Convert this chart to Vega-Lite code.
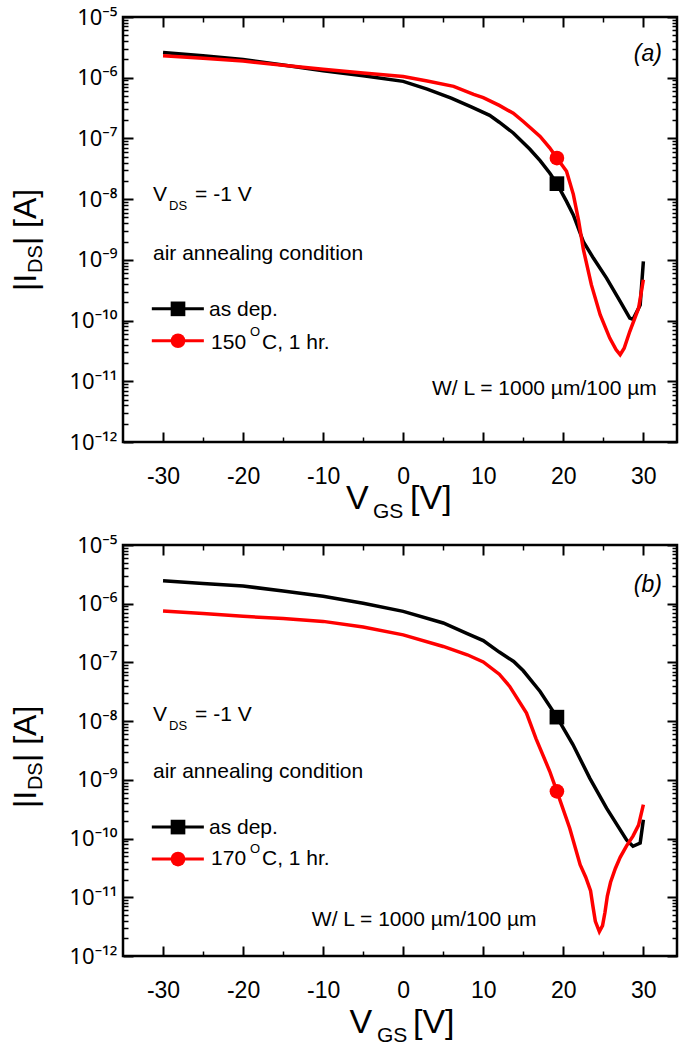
{
"$schema":"https://vega.github.io/schema/vega-lite/v6.json",
"background":"white",
"padding":{"left":8,"top":4,"right":5,"bottom":5},
"spacing":103,
"bounds":"flush",
"config":{"view":{"stroke":"#000","strokeWidth":2.5},"font":"Liberation Sans"},
"vconcat":[
{"width":554,"height":425,
"layer":[
{"data":{"values":[
{"s":"dep","v":-30,"i":2.6e-6},{"s":"dep","v":-25,"i":2.3e-6},{"s":"dep","v":-20,"i":2.0e-6},{"s":"dep","v":-15,"i":1.62e-6},{"s":"dep","v":-10,"i":1.3e-6},{"s":"dep","v":-5,"i":1.08e-6},{"s":"dep","v":0,"i":8.7e-7},{"s":"dep","v":3,"i":6.5e-7},{"s":"dep","v":6,"i":4.6e-7},{"s":"dep","v":8.5,"i":3.3e-7},{"s":"dep","v":10.8,"i":2.4e-7},{"s":"dep","v":12,"i":1.85e-7},{"s":"dep","v":13.75,"i":1.23e-7},{"s":"dep","v":15.8,"i":6.7e-8},{"s":"dep","v":17.1,"i":4.3e-8},{"s":"dep","v":18.3,"i":2.7e-8},{"s":"dep","v":19.2,"i":1.8e-8},{"s":"dep","v":20.4,"i":9.2e-9},{"s":"dep","v":21.25,"i":5.5e-9},{"s":"dep","v":22.5,"i":2.0e-9},{"s":"dep","v":23.75,"i":1.07e-9},{"s":"dep","v":25.4,"i":5.0e-10},{"s":"dep","v":27.1,"i":2.07e-10},{"s":"dep","v":28.3,"i":1.1e-10},{"s":"dep","v":28.7,"i":1.05e-10},{"s":"dep","v":29.6,"i":1.8e-10},{"s":"dep","v":30,"i":9.4e-10},
{"s":"ann","v":-30,"i":2.3e-6},{"s":"ann","v":-25,"i":2.1e-6},{"s":"ann","v":-20,"i":1.88e-6},{"s":"ann","v":-15,"i":1.6e-6},{"s":"ann","v":-10,"i":1.38e-6},{"s":"ann","v":-5,"i":1.2e-6},{"s":"ann","v":0,"i":1.05e-6},{"s":"ann","v":3,"i":8.8e-7},{"s":"ann","v":6.3,"i":7.2e-7},{"s":"ann","v":8.8,"i":5.3e-7},{"s":"ann","v":10,"i":4.7e-7},{"s":"ann","v":12,"i":3.5e-7},{"s":"ann","v":13.75,"i":2.6e-7},{"s":"ann","v":15,"i":1.9e-7},{"s":"ann","v":17.1,"i":1.08e-7},{"s":"ann","v":18.3,"i":7e-8},{"s":"ann","v":19.2,"i":4.75e-8},{"s":"ann","v":20.4,"i":2.87e-8},{"s":"ann","v":21.25,"i":1.2e-8},{"s":"ann","v":21.9,"i":4.5e-9},{"s":"ann","v":22.5,"i":1.5e-9},{"s":"ann","v":23.5,"i":3.9e-10},{"s":"ann","v":24.6,"i":1.25e-10},{"s":"ann","v":25.8,"i":5.15e-11},{"s":"ann","v":26.6,"i":3.3e-11},{"s":"ann","v":27.1,"i":2.74e-11},{"s":"ann","v":27.6,"i":3.5e-11},{"s":"ann","v":28.3,"i":6.6e-11},{"s":"ann","v":29.4,"i":1.6e-10},{"s":"ann","v":30,"i":4.7e-10}
]},
"mark":{"type":"line","strokeWidth":3.5},
"encoding":{
"x":{"field":"v","type":"quantitative","scale":{"domain":[-35,34.2],"nice":false,"zero":false},"axis":{"orient":"bottom","values":[-30,-20,-10,0,10,20,30],"labelExpr":"'' + datum.value","tickSize":-10,"tickWidth":2,"tickColor":"#000","domain":false,"grid":false,"title":null,"labelFont":"Liberation Sans","labelFontSize":23,"labelColor":"#000","labelPadding":33,"labelFlush":false,"labelOverlap":false,"labelBound":false}},
"y":{"field":"i","type":"quantitative","scale":{"type":"log","domain":[1e-12,1e-5],"nice":false},"axis":{"orient":"left","values":[1e-12,1e-11,1e-10,1e-9,1e-8,1e-7,1e-6,1e-5],"labelExpr":"datum.value < 3e-12 ? '10⁻¹²' : datum.value < 3e-11 ? '10⁻¹¹' : datum.value < 3e-10 ? '10⁻¹⁰' : datum.value < 3e-9 ? '10⁻⁹' : datum.value < 3e-8 ? '10⁻⁸' : datum.value < 3e-7 ? '10⁻⁷' : datum.value < 3e-6 ? '10⁻⁶' : '10⁻⁵'","tickSize":-10,"tickWidth":2,"tickColor":"#000","domain":false,"grid":false,"title":null,"labelFont":"Noto Sans","labelFontSize":22,"labelColor":"#000","labelPadding":16,"labelFlush":false,"labelOverlap":false,"labelBound":false}},
"color":{"field":"s","type":"nominal","scale":{"domain":["dep","ann"],"range":["#000000","#ff0000"]},"legend":null}}},
{"data":{"values":[{"s":"dep","v":19.2,"i":1.8e-8},{"s":"ann","v":19.2,"i":4.75e-8}]},
"mark":{"type":"point","filled":true,"opacity":1,"size":215},
"encoding":{
"x":{"field":"v","type":"quantitative","scale":{"domain":[-35,34.2],"nice":false,"zero":false},"axis":{"orient":"top","values":[-30,-20,-10,0,10,20,30],"labels":false,"tickSize":-10,"tickWidth":2,"tickColor":"#000","domain":false,"grid":false,"title":null}},
"y":{"field":"i","type":"quantitative","scale":{"type":"log","domain":[1e-12,1e-5],"nice":false},"axis":{"orient":"right","values":[1e-12,1e-11,1e-10,1e-9,1e-8,1e-7,1e-6,1e-5],"labels":false,"tickSize":-10,"tickWidth":2,"tickColor":"#000","domain":false,"grid":false,"title":null}},
"color":{"field":"s","type":"nominal","scale":{"domain":["dep","ann"],"range":["#000000","#ff0000"]},"legend":null},
"shape":{"field":"s","type":"nominal","scale":{"domain":["dep","ann"],"range":["square","circle"]},"legend":null}}},
{"data":{"values":[{"s":"dep","v":-31.4,"i":1.56e-10},{"s":"dep","v":-24.9,"i":1.56e-10},{"s":"ann","v":-31.4,"i":4.65e-11},{"s":"ann","v":-24.9,"i":4.65e-11}]},
"mark":{"type":"line","strokeWidth":3},
"encoding":{
"x":{"field":"v","type":"quantitative","scale":{"domain":[-35,34.2],"nice":false,"zero":false},"axis":{"orient":"bottom","values":[-25,-15,-5,5,15,25],"labels":false,"tickSize":-5,"tickWidth":1.5,"tickColor":"#000","domain":false,"grid":false,"title":null}},
"y":{"field":"i","type":"quantitative","scale":{"type":"log","domain":[1e-12,1e-5],"nice":false},"axis":{"orient":"left","values":[2e-12,3e-12,4e-12,5e-12,6e-12,7e-12,8e-12,9e-12,2e-11,3e-11,4e-11,5e-11,6e-11,7e-11,8e-11,9e-11,2e-10,3e-10,4e-10,5e-10,6e-10,7e-10,8e-10,9e-10,2e-9,3e-9,4e-9,5e-9,6e-9,7e-9,8e-9,9e-9,2e-8,3e-8,4e-8,5e-8,6e-8,7e-8,8e-8,9e-8,2e-7,3e-7,4e-7,5e-7,6e-7,7e-7,8e-7,9e-7,2e-6,3e-6,4e-6,5e-6,6e-6,7e-6,8e-6,9e-6],"labels":false,"tickSize":-5,"tickWidth":1.5,"tickColor":"#000","domain":false,"grid":false,"title":null}},
"color":{"field":"s","type":"nominal","scale":{"domain":["dep","ann"],"range":["#000000","#ff0000"]},"legend":null}}},
{"data":{"values":[{"s":"dep","v":-28.13,"i":1.56e-10},{"s":"ann","v":-28.13,"i":4.65e-11}]},
"mark":{"type":"point","filled":true,"opacity":1,"size":215},
"encoding":{
"x":{"field":"v","type":"quantitative","scale":{"domain":[-35,34.2],"nice":false,"zero":false},"axis":{"orient":"top","values":[-25,-15,-5,5,15,25],"labels":false,"tickSize":-5,"tickWidth":1.5,"tickColor":"#000","domain":false,"grid":false,"title":null}},
"y":{"field":"i","type":"quantitative","scale":{"type":"log","domain":[1e-12,1e-5],"nice":false},"axis":{"orient":"right","values":[2e-12,3e-12,4e-12,5e-12,6e-12,7e-12,8e-12,9e-12,2e-11,3e-11,4e-11,5e-11,6e-11,7e-11,8e-11,9e-11,2e-10,3e-10,4e-10,5e-10,6e-10,7e-10,8e-10,9e-10,2e-9,3e-9,4e-9,5e-9,6e-9,7e-9,8e-9,9e-9,2e-8,3e-8,4e-8,5e-8,6e-8,7e-8,8e-8,9e-8,2e-7,3e-7,4e-7,5e-7,6e-7,7e-7,8e-7,9e-7,2e-6,3e-6,4e-6,5e-6,6e-6,7e-6,8e-6,9e-6],"labels":false,"tickSize":-5,"tickWidth":1.5,"tickColor":"#000","domain":false,"grid":false,"title":null}},
"color":{"field":"s","type":"nominal","scale":{"domain":["dep","ann"],"range":["#000000","#ff0000"]},"legend":null},
"shape":{"field":"s","type":"nominal","scale":{"domain":["dep","ann"],"range":["square","circle"]},"legend":null}}},
{"data":{"values":[{"t":"V","v":-31.25,"i":9.3e-9},{"t":"= -1 V","v":-26.0,"i":9.3e-9},{"t":"air annealing condition","v":-31.25,"i":1.0e-9},{"t":"as dep.","v":-24.26,"i":1.19e-10},{"t":"150","v":-24.0,"i":3.43e-11},{"t":"C, 1 hr.","v":-17.64,"i":3.43e-11}]},
"mark":{"type":"text","align":"left","baseline":"alphabetic","font":"Liberation Sans","fontSize":21,"color":"#000"},
"encoding":{"x":{"field":"v","type":"quantitative","axis":null},"y":{"field":"i","type":"quantitative","scale":{"type":"log"},"axis":null},"text":{"field":"t"}}},
{"data":{"values":[{"t":"DS","v":-29.25,"i":6.6e-9},{"t":"O","v":-19.14,"i":5.56e-11}]},
"mark":{"type":"text","align":"left","baseline":"alphabetic","font":"Liberation Sans","fontSize":13,"color":"#000"},
"encoding":{"x":{"field":"v","type":"quantitative","axis":null},"y":{"field":"i","type":"quantitative","scale":{"type":"log"},"axis":null},"text":{"field":"t"}}},
{"data":{"values":[{"t":"W/ L = 1000 µm/100 µm","v":31.67,"i":5.93e-12}]},
"mark":{"type":"text","align":"right","baseline":"alphabetic","font":"Liberation Sans","fontSize":21,"color":"#000"},
"encoding":{"x":{"field":"v","type":"quantitative","axis":null},"y":{"field":"i","type":"quantitative","scale":{"type":"log"},"axis":null},"text":{"field":"t"}}},
{"data":{"values":[{"t":"(a)","v":32.32,"i":1.88e-6}]},
"mark":{"type":"text","align":"right","baseline":"alphabetic","font":"Liberation Sans","fontSize":23,"fontStyle":"italic","color":"#000"},
"encoding":{"x":{"field":"v","type":"quantitative","axis":null},"y":{"field":"i","type":"quantitative","scale":{"type":"log"},"axis":null},"text":{"field":"t"}}},
{"data":{"values":[{"t":"V","v":-7.15,"i":7.85e-14},{"t":"[V]","v":0.85,"i":7.85e-14}]},
"mark":{"type":"text","align":"left","baseline":"alphabetic","font":"Liberation Sans","fontSize":34,"color":"#000"},
"encoding":{"x":{"field":"v","type":"quantitative","axis":null},"y":{"field":"i","type":"quantitative","scale":{"type":"log"},"axis":null},"text":{"field":"t"}}},
{"data":{"values":[{"t":"GS","v":-3.77,"i":5.57e-14}]},
"mark":{"type":"text","align":"left","baseline":"alphabetic","font":"Liberation Sans","fontSize":21,"color":"#000"},
"encoding":{"x":{"field":"v","type":"quantitative","axis":null},"y":{"field":"i","type":"quantitative","scale":{"type":"log"},"axis":null},"text":{"field":"t"}}},
{"data":{"values":[{"t":"|I","v":-45.9,"i":3.06e-10},{"t":"| [A]","v":-45.9,"i":1.75e-9}]},
"mark":{"type":"text","align":"left","baseline":"alphabetic","angle":270,"font":"Liberation Sans","fontSize":32,"color":"#000"},
"encoding":{"x":{"field":"v","type":"quantitative","axis":null},"y":{"field":"i","type":"quantitative","scale":{"type":"log"},"axis":null},"text":{"field":"t"}}},
{"data":{"values":[{"t":"DS","v":-45.14,"i":6.07e-10}]},
"mark":{"type":"text","align":"left","baseline":"alphabetic","angle":270,"font":"Liberation Sans","fontSize":20,"color":"#000"},
"encoding":{"x":{"field":"v","type":"quantitative","axis":null},"y":{"field":"i","type":"quantitative","scale":{"type":"log"},"axis":null},"text":{"field":"t"}}}
]},
{"width":554,"height":411,
"layer":[
{"data":{"values":[
{"s":"dep","v":-30,"i":2.45e-6},{"s":"dep","v":-25,"i":2.2e-6},{"s":"dep","v":-20,"i":2.0e-6},{"s":"dep","v":-15,"i":1.65e-6},{"s":"dep","v":-10,"i":1.34e-6},{"s":"dep","v":-5,"i":1.02e-6},{"s":"dep","v":0,"i":7.4e-7},{"s":"dep","v":5,"i":4.7e-7},{"s":"dep","v":8,"i":3.1e-7},{"s":"dep","v":10,"i":2.35e-7},{"s":"dep","v":12,"i":1.5e-7},{"s":"dep","v":13.8,"i":1.04e-7},{"s":"dep","v":15,"i":7.2e-8},{"s":"dep","v":17.1,"i":3.2e-8},{"s":"dep","v":19.2,"i":1.17e-8},{"s":"dep","v":21.2,"i":4e-9},{"s":"dep","v":23.3,"i":1.07e-9},{"s":"dep","v":25.4,"i":3.3e-10},{"s":"dep","v":27.9,"i":9.5e-11},{"s":"dep","v":28.7,"i":7.4e-11},{"s":"dep","v":29.6,"i":8.4e-11},{"s":"dep","v":30,"i":2.1e-10},
{"s":"ann","v":-30,"i":7.5e-7},{"s":"ann","v":-25,"i":6.8e-7},{"s":"ann","v":-20,"i":6.1e-7},{"s":"ann","v":-15,"i":5.6e-7},{"s":"ann","v":-10,"i":5.0e-7},{"s":"ann","v":-5,"i":4.0e-7},{"s":"ann","v":0,"i":2.95e-7},{"s":"ann","v":5,"i":1.87e-7},{"s":"ann","v":8,"i":1.35e-7},{"s":"ann","v":10,"i":1.02e-7},{"s":"ann","v":12,"i":6.3e-8},{"s":"ann","v":13.3,"i":3.9e-8},{"s":"ann","v":15.4,"i":1.37e-8},{"s":"ann","v":16.6,"i":5e-9},{"s":"ann","v":18.3,"i":1.4e-9},{"s":"ann","v":19.2,"i":6.37e-10},{"s":"ann","v":20.8,"i":1.5e-10},{"s":"ann","v":22.1,"i":3.6e-11},{"s":"ann","v":22.8,"i":2.2e-11},{"s":"ann","v":23.4,"i":1.3e-11},{"s":"ann","v":23.7,"i":7e-12},{"s":"ann","v":24.0,"i":3.9e-12},{"s":"ann","v":24.5,"i":2.6e-12},{"s":"ann","v":24.9,"i":3.3e-12},{"s":"ann","v":25.2,"i":5.5e-12},{"s":"ann","v":25.5,"i":1.05e-11},{"s":"ann","v":25.9,"i":1.8e-11},{"s":"ann","v":26.5,"i":3.1e-11},{"s":"ann","v":27.1,"i":4.8e-11},{"s":"ann","v":27.9,"i":7.5e-11},{"s":"ann","v":28.7,"i":1.1e-10},{"s":"ann","v":29.4,"i":1.7e-10},{"s":"ann","v":30,"i":3.8e-10}
]},
"mark":{"type":"line","strokeWidth":3.5},
"encoding":{
"x":{"field":"v","type":"quantitative","scale":{"domain":[-35,34.2],"nice":false,"zero":false},"axis":{"orient":"bottom","values":[-30,-20,-10,0,10,20,30],"labelExpr":"'' + datum.value","tickSize":-10,"tickWidth":2,"tickColor":"#000","domain":false,"grid":false,"title":null,"labelFont":"Liberation Sans","labelFontSize":23,"labelColor":"#000","labelPadding":33,"labelFlush":false,"labelOverlap":false,"labelBound":false}},
"y":{"field":"i","type":"quantitative","scale":{"type":"log","domain":[1e-12,1e-5],"nice":false},"axis":{"orient":"left","values":[1e-12,1e-11,1e-10,1e-9,1e-8,1e-7,1e-6,1e-5],"labelExpr":"datum.value < 3e-12 ? '10⁻¹²' : datum.value < 3e-11 ? '10⁻¹¹' : datum.value < 3e-10 ? '10⁻¹⁰' : datum.value < 3e-9 ? '10⁻⁹' : datum.value < 3e-8 ? '10⁻⁸' : datum.value < 3e-7 ? '10⁻⁷' : datum.value < 3e-6 ? '10⁻⁶' : '10⁻⁵'","tickSize":-10,"tickWidth":2,"tickColor":"#000","domain":false,"grid":false,"title":null,"labelFont":"Noto Sans","labelFontSize":22,"labelColor":"#000","labelPadding":16,"labelFlush":false,"labelOverlap":false,"labelBound":false}},
"color":{"field":"s","type":"nominal","scale":{"domain":["dep","ann"],"range":["#000000","#ff0000"]},"legend":null}}},
{"data":{"values":[{"s":"dep","v":19.2,"i":1.17e-8},{"s":"ann","v":19.2,"i":6.37e-10}]},
"mark":{"type":"point","filled":true,"opacity":1,"size":215},
"encoding":{
"x":{"field":"v","type":"quantitative","scale":{"domain":[-35,34.2],"nice":false,"zero":false},"axis":{"orient":"top","values":[-30,-20,-10,0,10,20,30],"labels":false,"tickSize":-10,"tickWidth":2,"tickColor":"#000","domain":false,"grid":false,"title":null}},
"y":{"field":"i","type":"quantitative","scale":{"type":"log","domain":[1e-12,1e-5],"nice":false},"axis":{"orient":"right","values":[1e-12,1e-11,1e-10,1e-9,1e-8,1e-7,1e-6,1e-5],"labels":false,"tickSize":-10,"tickWidth":2,"tickColor":"#000","domain":false,"grid":false,"title":null}},
"color":{"field":"s","type":"nominal","scale":{"domain":["dep","ann"],"range":["#000000","#ff0000"]},"legend":null},
"shape":{"field":"s","type":"nominal","scale":{"domain":["dep","ann"],"range":["square","circle"]},"legend":null}}},
{"data":{"values":[{"s":"dep","v":-31.4,"i":1.57e-10},{"s":"dep","v":-24.9,"i":1.57e-10},{"s":"ann","v":-31.4,"i":4.48e-11},{"s":"ann","v":-24.9,"i":4.48e-11}]},
"mark":{"type":"line","strokeWidth":3},
"encoding":{
"x":{"field":"v","type":"quantitative","scale":{"domain":[-35,34.2],"nice":false,"zero":false},"axis":{"orient":"bottom","values":[-25,-15,-5,5,15,25],"labels":false,"tickSize":-5,"tickWidth":1.5,"tickColor":"#000","domain":false,"grid":false,"title":null}},
"y":{"field":"i","type":"quantitative","scale":{"type":"log","domain":[1e-12,1e-5],"nice":false},"axis":{"orient":"left","values":[2e-12,3e-12,4e-12,5e-12,6e-12,7e-12,8e-12,9e-12,2e-11,3e-11,4e-11,5e-11,6e-11,7e-11,8e-11,9e-11,2e-10,3e-10,4e-10,5e-10,6e-10,7e-10,8e-10,9e-10,2e-9,3e-9,4e-9,5e-9,6e-9,7e-9,8e-9,9e-9,2e-8,3e-8,4e-8,5e-8,6e-8,7e-8,8e-8,9e-8,2e-7,3e-7,4e-7,5e-7,6e-7,7e-7,8e-7,9e-7,2e-6,3e-6,4e-6,5e-6,6e-6,7e-6,8e-6,9e-6],"labels":false,"tickSize":-5,"tickWidth":1.5,"tickColor":"#000","domain":false,"grid":false,"title":null}},
"color":{"field":"s","type":"nominal","scale":{"domain":["dep","ann"],"range":["#000000","#ff0000"]},"legend":null}}},
{"data":{"values":[{"s":"dep","v":-28.13,"i":1.57e-10},{"s":"ann","v":-28.13,"i":4.48e-11}]},
"mark":{"type":"point","filled":true,"opacity":1,"size":215},
"encoding":{
"x":{"field":"v","type":"quantitative","scale":{"domain":[-35,34.2],"nice":false,"zero":false},"axis":{"orient":"top","values":[-25,-15,-5,5,15,25],"labels":false,"tickSize":-5,"tickWidth":1.5,"tickColor":"#000","domain":false,"grid":false,"title":null}},
"y":{"field":"i","type":"quantitative","scale":{"type":"log","domain":[1e-12,1e-5],"nice":false},"axis":{"orient":"right","values":[2e-12,3e-12,4e-12,5e-12,6e-12,7e-12,8e-12,9e-12,2e-11,3e-11,4e-11,5e-11,6e-11,7e-11,8e-11,9e-11,2e-10,3e-10,4e-10,5e-10,6e-10,7e-10,8e-10,9e-10,2e-9,3e-9,4e-9,5e-9,6e-9,7e-9,8e-9,9e-9,2e-8,3e-8,4e-8,5e-8,6e-8,7e-8,8e-8,9e-8,2e-7,3e-7,4e-7,5e-7,6e-7,7e-7,8e-7,9e-7,2e-6,3e-6,4e-6,5e-6,6e-6,7e-6,8e-6,9e-6],"labels":false,"tickSize":-5,"tickWidth":1.5,"tickColor":"#000","domain":false,"grid":false,"title":null}},
"color":{"field":"s","type":"nominal","scale":{"domain":["dep","ann"],"range":["#000000","#ff0000"]},"legend":null},
"shape":{"field":"s","type":"nominal","scale":{"domain":["dep","ann"],"range":["square","circle"]},"legend":null}}},
{"data":{"values":[{"t":"V","v":-31.25,"i":1.0e-8},{"t":"= -1 V","v":-26.0,"i":1.0e-8},{"t":"air annealing condition","v":-31.25,"i":1.07e-9},{"t":"as dep.","v":-24.26,"i":1.19e-10},{"t":"170","v":-24.0,"i":3.54e-11},{"t":"C, 1 hr.","v":-17.64,"i":3.54e-11}]},
"mark":{"type":"text","align":"left","baseline":"alphabetic","font":"Liberation Sans","fontSize":21,"color":"#000"},
"encoding":{"x":{"field":"v","type":"quantitative","axis":null},"y":{"field":"i","type":"quantitative","scale":{"type":"log"},"axis":null},"text":{"field":"t"}}},
{"data":{"values":[{"t":"DS","v":-29.25,"i":7.05e-9},{"t":"O","v":-19.14,"i":5.66e-11}]},
"mark":{"type":"text","align":"left","baseline":"alphabetic","font":"Liberation Sans","fontSize":13,"color":"#000"},
"encoding":{"x":{"field":"v","type":"quantitative","axis":null},"y":{"field":"i","type":"quantitative","scale":{"type":"log"},"axis":null},"text":{"field":"t"}}},
{"data":{"values":[{"t":"W/ L = 1000 µm/100 µm","v":16.66,"i":3.24e-12}]},
"mark":{"type":"text","align":"right","baseline":"alphabetic","font":"Liberation Sans","fontSize":21,"color":"#000"},
"encoding":{"x":{"field":"v","type":"quantitative","axis":null},"y":{"field":"i","type":"quantitative","scale":{"type":"log"},"axis":null},"text":{"field":"t"}}},
{"data":{"values":[{"t":"(b)","v":32.32,"i":1.58e-6}]},
"mark":{"type":"text","align":"right","baseline":"alphabetic","font":"Liberation Sans","fontSize":23,"fontStyle":"italic","color":"#000"},
"encoding":{"x":{"field":"v","type":"quantitative","axis":null},"y":{"field":"i","type":"quantitative","scale":{"type":"log"},"axis":null},"text":{"field":"t"}}},
{"data":{"values":[{"t":"V","v":-6.70,"i":4.86e-14},{"t":"[V]","v":1.22,"i":4.86e-14}]},
"mark":{"type":"text","align":"left","baseline":"alphabetic","font":"Liberation Sans","fontSize":34,"color":"#000"},
"encoding":{"x":{"field":"v","type":"quantitative","axis":null},"y":{"field":"i","type":"quantitative","scale":{"type":"log"},"axis":null},"text":{"field":"t"}}},
{"data":{"values":[{"t":"GS","v":-3.27,"i":3.41e-14}]},
"mark":{"type":"text","align":"left","baseline":"alphabetic","font":"Liberation Sans","fontSize":21,"color":"#000"},
"encoding":{"x":{"field":"v","type":"quantitative","axis":null},"y":{"field":"i","type":"quantitative","scale":{"type":"log"},"axis":null},"text":{"field":"t"}}},
{"data":{"values":[{"t":"|I","v":-45.9,"i":3.31e-10},{"t":"| [A]","v":-45.9,"i":2.01e-9}]},
"mark":{"type":"text","align":"left","baseline":"alphabetic","angle":270,"font":"Liberation Sans","fontSize":32,"color":"#000"},
"encoding":{"x":{"field":"v","type":"quantitative","axis":null},"y":{"field":"i","type":"quantitative","scale":{"type":"log"},"axis":null},"text":{"field":"t"}}},
{"data":{"values":[{"t":"DS","v":-45.14,"i":6.7e-10}]},
"mark":{"type":"text","align":"left","baseline":"alphabetic","angle":270,"font":"Liberation Sans","fontSize":20,"color":"#000"},
"encoding":{"x":{"field":"v","type":"quantitative","axis":null},"y":{"field":"i","type":"quantitative","scale":{"type":"log"},"axis":null},"text":{"field":"t"}}}
]}
]
}
